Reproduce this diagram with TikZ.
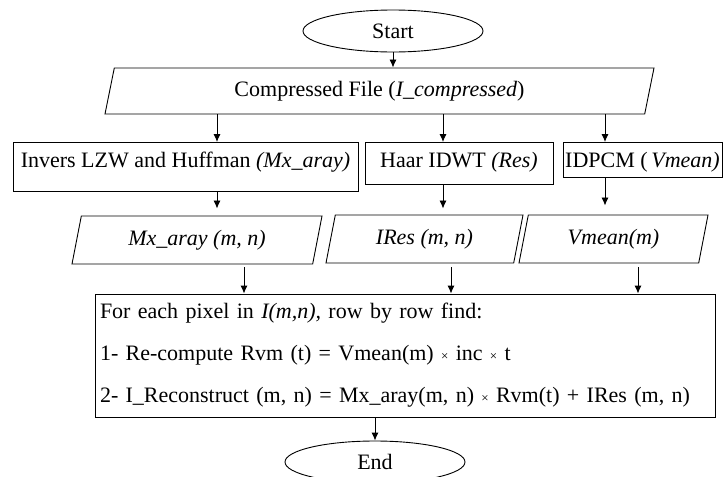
\documentclass[tikz,border=0pt]{standalone}
\usepackage{fontspec}
\setmainfont{Liberation Serif}
\usetikzlibrary{shapes.geometric,arrows.meta}
\tikzset{
  term/.style={draw, ellipse, line width=0.9pt, inner sep=0pt, minimum width=180pt, minimum height=42pt},
  io/.style={draw, trapezium, trapezium left angle=65, trapezium right angle=115,
    trapezium stretches body, line width=0.9pt, inner sep=0pt},
  proc/.style={draw, rectangle, line width=0.9pt, inner xsep=0pt, inner ysep=0pt, text height=25pt, anchor=north},
  flow/.style={-{Latex[length=8pt,width=7pt]}, line width=0.9pt},
}
\newcommand{\tms}{{\fontsize{13}{13}\selectfont ×}}
\begin{document}
\begin{tikzpicture}[x=1pt,y=-1pt,font=\fontsize{22}{26}\selectfont]
    \useasboundingbox (0,0) rectangle (724,477);
    %start and input
    \node[term] (start) at (393,31) {Start};
    \node[io, minimum width=549pt, minimum height=46pt] (cf) at (379.5,91) {Compressed File (\textit{I\_compressed})};
    %decoding steps
    \node[proc, minimum width=345pt, text depth=24pt] (inv) at (185.5,142) {Invers LZW and Huffman \textit{(Mx\_aray)}};
    \node[proc, minimum width=188pt, text depth=17pt] (haar) at (459,142) {Haar IDWT \textit{(Res)}};
    \node[proc, minimum width=159pt, text depth=10pt] (idpcm) at (642.5,142) {IDPCM (\,\textit{Vmean)}};
    %outputs
    \node[io, minimum width=250pt, minimum height=48pt] (mx) at (197,240) {\textit{Mx\_aray (m, n)}};
    \node[io, minimum width=197pt, minimum height=48pt] (ires) at (424.5,239) {\textit{IRes (m, n)}};
    \node[io, minimum width=189pt, minimum height=48pt] (vm) at (613.5,239) {\textit{Vmean(m)}};
    %reconstruction
    \node[draw, rectangle, line width=0.9pt, inner xsep=5pt, inner ysep=0pt, minimum height=123pt,
      text width=610pt, align=left, font=\fontsize{22}{42}\selectfont] (rec) at (405,355.5)
      {For each pixel in \textit{I(m,n),} row by row find:\\
       1- Re-compute Rvm (t) = Vmean(m) \tms{} inc \tms{} t\\
       2- I\_Reconstruct (m, n) = Mx\_aray(m, n) \tms{} Rvm(t) + IRes (m, n)};
    \node[term] (end) at (375,462) {End};
    %columns of the arrows
    \coordinate (a1) at (217,0);
    \coordinate (a2) at (443,0);
    \coordinate (a3) at (605,0);
    \coordinate (b1) at (244,0);
    \coordinate (b2) at (451,0);
    \coordinate (b3) at (638,0);
    \draw[flow] (start.south) -- (start.south |- cf.north);
    \draw[flow] (cf.south -| a1) -- (inv.north -| a1);
    \draw[flow] (cf.south -| a2) -- (haar.north -| a2);
    \draw[flow] (cf.south -| a3) -- (idpcm.north -| a3);
    \draw[flow, shorten >=7pt] (inv.south -| a1) -- (mx.north -| a1);
    \draw[flow, shorten >=6pt] (haar.south -| a2) -- (ires.north -| a2);
    \draw[flow, shorten >=9pt] (idpcm.south -| a3) -- (vm.north -| a3);
    \draw[flow, shorten <=3pt] (mx.south -| b1) -- (rec.north -| b1);
    \draw[flow, shorten <=4pt] (ires.south -| b2) -- (rec.north -| b2);
    \draw[flow, shorten <=4pt] (vm.south -| b3) -- (rec.north -| b3);
    \draw[flow] (rec.south -| end.north) -- (end.north);
\end{tikzpicture}
\end{document}
